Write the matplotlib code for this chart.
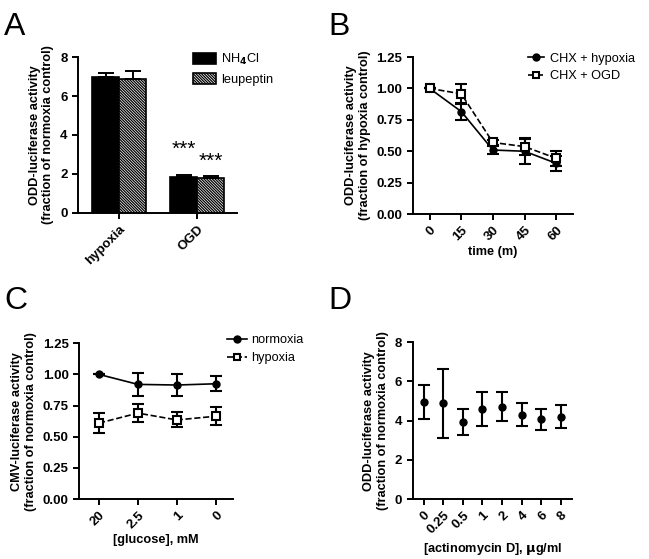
import numpy as np
import matplotlib
matplotlib.use("Agg")
import matplotlib.pyplot as plt
from matplotlib.lines import Line2D

plt.rcParams["font.family"] = ["Liberation Sans", "DejaVu Sans"]
plt.rcParams["font.weight"] = "bold"
plt.rcParams["hatch.linewidth"] = 0.9

# Panel A: bar data
a_groups = ["hypoxia", "OGD"]
a_nh4cl = [6.97, 1.87]
a_nh4cl_err = [0.2, 0.08]
a_leup = [6.89, 1.79]
a_leup_err = [0.38, 0.13]

# Panel B: time course
b_time = [0, 15, 30, 45, 60]
b_hyp = [1.0, 0.816, 0.51, 0.50, 0.404]
b_hyp_err = [0.0, 0.07, 0.03, 0.10, 0.06]
b_ogd = [1.0, 0.957, 0.57, 0.537, 0.444]
b_ogd_err = [0.0, 0.08, 0.02, 0.07, 0.06]

# Panel C: glucose
c_labels = ["20", "2.5", "1", "0"]
c_norm = [1.0, 0.92, 0.915, 0.925]
c_norm_err = [0.0, 0.09, 0.09, 0.06]
c_hyp = [0.61, 0.69, 0.635, 0.665]
c_hyp_err = [0.08, 0.075, 0.06, 0.07]

# Panel D: actinomycin D
d_labels = ["0", "0.25", "0.5", "1", "2", "4", "6", "8"]
d_vals = [4.93, 4.89, 3.93, 4.6, 4.72, 4.31, 4.06, 4.21]
d_err = [0.87, 1.75, 0.64, 0.87, 0.74, 0.59, 0.55, 0.57]

fig = plt.figure(figsize=(6.49, 5.59), dpi=100)
axA = fig.add_axes([0.120, 0.619, 0.245, 0.279])
axB = fig.add_axes([0.636, 0.617, 0.247, 0.281])
axC = fig.add_axes([0.122, 0.107, 0.237, 0.279])
axD = fig.add_axes([0.636, 0.107, 0.245, 0.281])

tick_fs = 9.5
lab_fs = 9.2
leg_fs = 9.2


def style(ax):
    for s in ["top", "right"]:
        ax.spines[s].set_visible(False)
    for s in ["left", "bottom"]:
        ax.spines[s].set_linewidth(1.4)
    ax.tick_params(width=1.4, length=4, labelsize=tick_fs)
    for t in ax.get_yticklabels() + ax.get_xticklabels():
        t.set_fontweight("bold")


def handles(labels, open_square):
    h = []
    for lab, sq in zip(labels, open_square):
        if sq:
            h.append(Line2D([], [], color="black", ls="--", lw=1.2, marker="s", ms=5,
                            mfc="white", mew=1.5, label=lab))
        else:
            h.append(Line2D([], [], color="black", ls="-", lw=1.2, marker="o", ms=5,
                            label=lab))
    return h


# A
x = np.arange(len(a_groups))
w = 0.345
axA.bar(x - w / 2, a_nh4cl, w, color="black", edgecolor="black", linewidth=1.2,
        label="NH$_4$Cl")
axA.bar(x + w / 2, a_leup, w, color="white", edgecolor="black", linewidth=1.2,
        hatch="\\" * 12, label="leupeptin")
axA.errorbar(x - w / 2, a_nh4cl, yerr=[np.zeros(2), a_nh4cl_err], fmt="none",
             ecolor="black", elinewidth=1.4, capsize=6, capthick=1.4)
axA.errorbar(x + w / 2, a_leup, yerr=[np.zeros(2), a_leup_err], fmt="none",
             ecolor="black", elinewidth=1.4, capsize=6, capthick=1.4)
axA.text(1 - w / 2, 3.25, "***", ha="center", va="center", fontsize=15, fontweight="normal")
axA.text(1 + w / 2, 2.65, "***", ha="center", va="center", fontsize=15, fontweight="normal")
axA.set_xlim(-0.53, 1.51)
axA.set_ylim(0, 8)
axA.set_yticks([0, 2, 4, 6, 8])
axA.set_xticks(x)
axA.set_xticklabels(a_groups, rotation=45, ha="right", rotation_mode="anchor")
axA.set_ylabel("ODD-luciferase activity\n(fraction of normoxia control)", fontsize=lab_fs,
               fontweight="bold")
axA.legend(loc="upper left", bbox_to_anchor=(0.69, 1.065), frameon=False,
           prop={"size": leg_fs, "weight": "normal"}, handlelength=1.85, handleheight=0.9,
           borderaxespad=0, labelspacing=0.5, handletextpad=0.4)
style(axA)

# B
axB.errorbar(b_time, b_hyp, yerr=b_hyp_err, color="black", marker="o", ms=5,
             lw=1.2, capsize=4, capthick=1.5, elinewidth=1.5)
axB.errorbar(b_time, b_ogd, yerr=b_ogd_err, color="black", marker="s", ms=6,
             mfc="white", mew=1.5, lw=1.2, ls="--", capsize=4, capthick=1.5,
             elinewidth=1.5)
axB.set_xlim(-8, 68)
axB.set_ylim(0, 1.25)
axB.set_yticks([0, 0.25, 0.5, 0.75, 1.0, 1.25])
axB.set_yticklabels(["0.00", "0.25", "0.50", "0.75", "1.00", "1.25"])
axB.set_xticks(b_time)
axB.set_xticklabels([str(t) for t in b_time], rotation=45, ha="right", rotation_mode="anchor")
axB.set_xlabel("time (m)", fontsize=lab_fs, fontweight="bold", labelpad=2)
axB.set_ylabel("ODD-luciferase activity\n(fraction of hypoxia control)", fontsize=lab_fs,
               fontweight="bold")
axB.legend(handles=handles(["CHX + hypoxia", "CHX + OGD"], [False, True]),
           loc="upper left", bbox_to_anchor=(0.69, 1.06), frameon=False,
           prop={"size": leg_fs, "weight": "normal"}, handlelength=1.2,
           borderaxespad=0, labelspacing=0.45, handletextpad=0.5)
style(axB)

# C
xc = np.arange(len(c_labels))
axC.errorbar(xc, c_norm, yerr=c_norm_err, color="black", marker="o", ms=5,
             lw=1.2, capsize=4, capthick=1.5, elinewidth=1.5)
axC.errorbar(xc, c_hyp, yerr=c_hyp_err, color="black", marker="s", ms=6,
             mfc="white", mew=1.5, lw=1.2, ls="--", capsize=4, capthick=1.5,
             elinewidth=1.5)
axC.set_xlim(-0.51, 3.44)
axC.set_ylim(0, 1.25)
axC.set_yticks([0, 0.25, 0.5, 0.75, 1.0, 1.25])
axC.set_yticklabels(["0.00", "0.25", "0.50", "0.75", "1.00", "1.25"])
axC.set_xticks(xc)
axC.set_xticklabels(c_labels, rotation=45, ha="right", rotation_mode="anchor")
axC.set_xlabel("[glucose], mM", fontsize=lab_fs, fontweight="bold", labelpad=2)
axC.set_ylabel("CMV-luciferase activity\n(fraction of normoxia control)", fontsize=lab_fs,
               fontweight="bold")
axC.legend(handles=handles(["normoxia", "hypoxia"], [False, True]),
           loc="upper left", bbox_to_anchor=(0.93, 1.09), frameon=False,
           prop={"size": leg_fs, "weight": "normal"}, handlelength=1.5,
           borderaxespad=0, labelspacing=0.45, handletextpad=0.4)
style(axC)

# D
xd = np.arange(len(d_labels))
axD.errorbar(xd, d_vals, yerr=d_err, fmt="o", color="black", ms=5,
             capsize=4, capthick=1.5, elinewidth=1.5)
axD.set_xlim(-0.56, 7.56)
axD.set_ylim(0, 8)
axD.set_yticks([0, 2, 4, 6, 8])
axD.set_xticks(xd)
axD.set_xticklabels(d_labels, rotation=45, ha="right", rotation_mode="anchor")
axD.set_xlabel("[actinomycin D], $\\mathbf{\\mu}$g/ml", fontsize=lab_fs, fontweight="bold",
               labelpad=3)
axD.set_ylabel("ODD-luciferase activity\n(fraction of normoxia control)", fontsize=lab_fs,
               fontweight="bold")
style(axD)

for lbl, fx, fy in [("A", 0.006, 0.978), ("B", 0.506, 0.978),
                    ("C", 0.006, 0.488), ("D", 0.506, 0.488)]:
    fig.text(fx, fy, lbl, fontsize=23, fontweight="normal", va="top", ha="left")

fig.savefig("out.png", dpi=100)
